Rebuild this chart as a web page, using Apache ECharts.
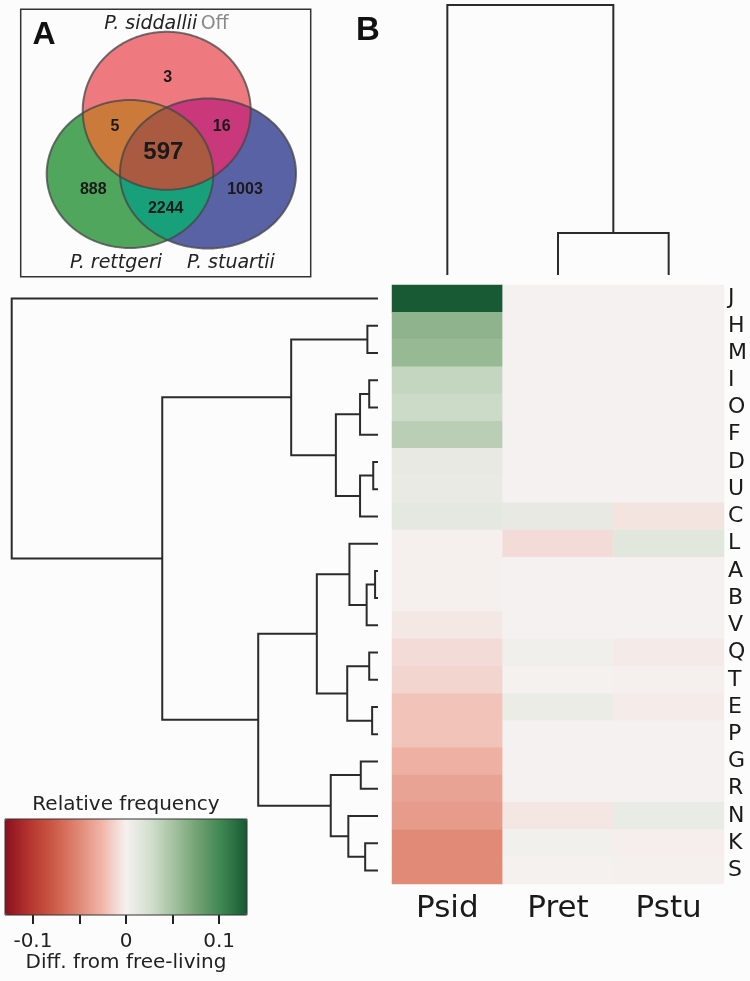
<!DOCTYPE html>
<html>
<head>
<meta charset="utf-8">
<script src="https://cdn.jsdelivr.net/npm/echarts@6/dist/echarts.min.js"></script>
<style>
html,body{margin:0;padding:0;background:#fcfcfc;}
#chart{width:750px;height:981px;}
</style>
</head>
<body>
<div id="chart"></div>
<script>
// ---------------- DATA ----------------
const rows = ['J','H','M','I','O','F','D','U','C','L','A','B','V','Q','T','E','P','G','R','N','K','S'];
const cols = ['Psid','Pret','Pstu'];
const psid = [0.13,0.062,0.058,0.034,0.030,0.040,0.011,0.010,0.013,-0.001,-0.001,-0.001,-0.004,-0.009,-0.012,-0.020,-0.020,-0.029,-0.036,-0.040,-0.050,-0.050];
const pret = [0,0,0,0,0,0,0,0,0.011,-0.009,0,0,0,0.003,0.0005,0.007,0,0,0,-0.0048,0.002,0.0005];
const pstu = [0,0,0,0,0,0,0,0,-0.0056,0.0145,0,0,0,-0.003,-0.001,-0.0026,0,0,0,0.009,-0.0015,-0.001];

// row dendrogram linkage: [childA, childB, height]; '#k' refers to k-th merge
const rowLinkage = [
  ['H','M',0.029], ['I','O',0.024], ['#1','F',0.049], ['D','U',0.013], ['#3','C',0.049],
  ['#2','#4',0.115], ['#0','#5',0.237], ['A','B',0.008], ['#7','V',0.031], ['L','#8',0.078],
  ['Q','T',0.024], ['E','P',0.016], ['#10','#11',0.084], ['#9','#12',0.167], ['G','R',0.047],
  ['K','S',0.035], ['N','#15',0.081], ['#14','#16',0.129], ['#13','#17',0.327], ['#6','#18',0.589],
  ['J','#19',1.0]
];
const colLinkage = [['Pret','Pstu',0.156], ['Psid','#0',1.0]];

// colour scale
const scaleMin = -0.13, scaleMax = 0.13;
const scaleColors = ['#8a0f1f','#b5342e','#cc5a47','#df8673','#f0b5a8','#f5f1f0','#d3dfcf','#a3c09f','#6fa070','#3b8450','#175a33'];
const colorbarTicks = [-0.1,-0.05,0,0.05,0.1];
const colorbarLabels = [-0.1,0,0.1];

// Venn
const vennSets = ['P. siddallii','P. rettgeri','P. stuartii'];
const vennRegions = ['S','SR','ST','SRT','R','RT','T'];
const vennCounts = [3,5,16,597,888,2244,1003];

// ---------------- LAYOUT ----------------
const L = {
  heat:{left:392, top:285, width:332, height:599},
  rowD:{left:11.7, top:285, width:366.3, height:599},
  colD:{left:392, top:5, width:332, height:270},
  cbar:{left:5, top:819, width:242, height:96},
  venn:{
    box:[20.7,9.3,290,267.4],
    ell:{S:{cx:166.7,cy:110.8,rx:84,ry:79}, R:{cx:130,cy:174,rx:83.3,ry:74}, T:{cx:208,cy:173.5,rx:88,ry:75}},
    lab:{S:[166.5,24], R:[116,263], T:[231,263]},
    num:{S:[167.7,77.3], SR:[115,126.7], ST:[221.7,126.7], SRT:[163.3,152.7], R:[93.3,190], RT:[165.7,209], T:[245,190]},
    col:{S:'#ee7a80', R:'#50a65c', T:'#5862a4', SR:'#cc7a3c', ST:'#c8387a', RT:'#17a07a', SRT:'#a95a40'}
  }
};

// ---------------- helpers ----------------
function dendroPaths(leaves, linkage, horizontal){
  const pos={}, hgt={};
  leaves.forEach((n,i)=>{pos[n]=i+0.5; hgt[n]=0;});
  const out=[];
  linkage.forEach((m,k)=>{
    const a=m[0], b=m[1], h=m[2];
    let pts=[[hgt[a],pos[a]],[h,pos[a]],[h,pos[b]],[hgt[b],pos[b]]];
    if(!horizontal) pts = pts.map(p=>[p[1],p[0]]);
    out.push({coords:pts});
    pos['#'+k]=(pos[a]+pos[b])/2; hgt['#'+k]=h;
  });
  return out;
}
function ellPts(e,n){
  const p=[];
  for(let i=0;i<n;i++){const t=2*Math.PI*i/n; p.push([e.cx+e.rx*Math.cos(t), e.cy+e.ry*Math.sin(t)]);}
  return p;
}
function clipPoly(subj, clip){
  let output=subj;
  for(let i=0;i<clip.length;i++){
    const A=clip[i], B=clip[(i+1)%clip.length];
    const input=output; output=[];
    if(!input.length) break;
    const inside=p=>((B[0]-A[0])*(p[1]-A[1])-(B[1]-A[1])*(p[0]-A[0]))>=0;
    const inter=(P,Q)=>{
      const a1=B[1]-A[1], b1=A[0]-B[0], c1=a1*A[0]+b1*A[1];
      const a2=Q[1]-P[1], b2=P[0]-Q[0], c2=a2*P[0]+b2*P[1];
      const d=a1*b2-a2*b1;
      return [(b2*c1-b1*c2)/d,(a1*c2-a2*c1)/d];
    };
    for(let j=0;j<input.length;j++){
      const P=input[j], Q=input[(j+1)%input.length];
      const pin=inside(P), qin=inside(Q);
      if(pin){ output.push(P); if(!qin) output.push(inter(P,Q)); }
      else if(qin){ output.push(inter(P,Q)); }
    }
  }
  return output;
}

// ---------------- build ----------------
const heatData=[];
[psid,pret,pstu].forEach((arr,c)=>arr.forEach((v,r)=>heatData.push([c,r,v])));

const V=L.venn;
const E={S:ellPts(V.ell.S,240), R:ellPts(V.ell.R,240), T:ellPts(V.ell.T,240)};
const graphics=[];
graphics.push({type:'rect', shape:{x:V.box[0],y:V.box[1],width:V.box[2],height:V.box[3]}, style:{fill:'#fcfcfc',stroke:'#333',lineWidth:1.5}, z:1});
const regionPolys=[
  ['S',E.S],['R',E.R],['T',E.T],
  ['SR',clipPoly(E.S,E.R)],['ST',clipPoly(E.S,E.T)],['RT',clipPoly(E.R,E.T)],
  ['SRT',clipPoly(clipPoly(E.S,E.R),E.T)]
];
regionPolys.forEach((rp,i)=>graphics.push({type:'polygon', shape:{points:rp[1]}, style:{fill:V.col[rp[0]], stroke:null}, z:2+i*0.01}));
['S','R','T'].forEach(k=>graphics.push({type:'polygon', shape:{points:E[k]}, style:{fill:null, stroke:'rgba(70,70,70,0.75)', lineWidth:2}, z:3}));
graphics.push({type:'text', x:V.lab.S[0], y:V.lab.S[1], z:4, style:{
  text:'{i|'+vennSets[0]+'} {o|Off}', align:'center', verticalAlign:'middle',
  rich:{i:{fontFamily:'DejaVu Sans',fontStyle:'italic',fontSize:19,fill:'#222'}, o:{fontFamily:'DejaVu Sans',fontSize:19,fill:'#8a8a8a'}}}});
graphics.push({type:'text', x:V.lab.R[0], y:V.lab.R[1], z:4, style:{text:vennSets[1], align:'center', verticalAlign:'middle', fontFamily:'DejaVu Sans', fontStyle:'italic', fontSize:19, fill:'#222'}});
graphics.push({type:'text', x:V.lab.T[0], y:V.lab.T[1], z:4, style:{text:vennSets[2], align:'center', verticalAlign:'middle', fontFamily:'DejaVu Sans', fontStyle:'italic', fontSize:19, fill:'#222'}});
vennRegions.forEach((r,i)=>{
  const p=V.num[r];
  graphics.push({type:'text', x:p[0], y:p[1], z:4, style:{text:String(vennCounts[i]), align:'center', verticalAlign:'middle',
    fontFamily:'Liberation Sans', fontWeight:'bold', fontSize:(r==='SRT'?24:16), fill:'#1a1a1a'}});
});
graphics.push({type:'text', x:44, y:35, z:4, style:{text:'A', align:'center', verticalAlign:'middle', fontFamily:'Liberation Sans', fontWeight:900, fontSize:32, fill:'#111'}});
graphics.push({type:'text', x:368, y:31, z:4, style:{text:'B', align:'center', verticalAlign:'middle', fontFamily:'Liberation Sans', fontWeight:900, fontSize:33, fill:'#111'}});
graphics.push({type:'text', x:126, y:805, z:4, style:{text:'Relative frequency', align:'center', verticalAlign:'middle', fontFamily:'DejaVu Sans', fontSize:20, fill:'#222'}});

const hidden={show:false};
const option={
  backgroundColor:'#fcfcfc',
  animation:false,
  grid:[
    Object.assign({},L.heat),
    Object.assign({},L.rowD),
    Object.assign({},L.colD),
    Object.assign({show:true, borderColor:'#333', borderWidth:1, backgroundColor:'transparent', z:10},L.cbar)
  ],
  xAxis:[
    {type:'category', gridIndex:0, data:cols, position:'bottom', axisLine:hidden, axisTick:hidden, splitLine:hidden,
     axisLabel:{interval:0, fontFamily:'DejaVu Sans', fontSize:31, color:'#1a1a1a', margin:9}},
    {type:'value', gridIndex:1, min:0, max:1, inverse:true, show:false},
    {type:'value', gridIndex:2, min:0, max:3, show:false},
    {type:'value', gridIndex:3, min:scaleMin, max:scaleMax, splitLine:hidden, axisLine:hidden,
     axisTick:{show:true, customValues:colorbarTicks, length:9, lineStyle:{color:'#222', width:2}},
     axisLabel:{customValues:colorbarLabels, fontFamily:'DejaVu Sans', fontSize:20, color:'#222', margin:17},
     name:'Diff. from free-living', nameLocation:'middle', nameGap:36,
     nameTextStyle:{fontFamily:'DejaVu Sans', fontSize:20, color:'#222'}}
  ],
  yAxis:[
    {type:'category', gridIndex:0, data:rows, inverse:true, position:'right', axisLine:hidden, axisTick:hidden, splitLine:hidden,
     axisLabel:{interval:0, fontFamily:'DejaVu Sans', fontSize:22, color:'#1a1a1a', margin:4}},
    {type:'value', gridIndex:1, min:0, max:rows.length, inverse:true, show:false},
    {type:'value', gridIndex:2, min:0, max:1, show:false},
    {type:'value', gridIndex:3, min:0, max:1, show:false}
  ],
  visualMap:{
    type:'continuous', min:scaleMin, max:scaleMax, seriesIndex:0, calculable:false, hoverLink:false,
    orient:'horizontal', left:L.cbar.left, top:L.cbar.top, itemWidth:L.cbar.height, itemHeight:L.cbar.width,
    padding:0, text:null, showLabel:false, inRange:{color:scaleColors}
  },
  series:[
    {type:'heatmap', xAxisIndex:0, yAxisIndex:0, data:heatData, silent:true, itemStyle:{borderWidth:0}, emphasis:{disabled:true}, progressive:0},
    {type:'lines', coordinateSystem:'cartesian2d', xAxisIndex:1, yAxisIndex:1, polyline:true, silent:true,
     lineStyle:{color:'#2b2b2b', width:2, opacity:1}, data:dendroPaths(rows,rowLinkage,true)},
    {type:'lines', coordinateSystem:'cartesian2d', xAxisIndex:2, yAxisIndex:2, polyline:true, silent:true,
     lineStyle:{color:'#2b2b2b', width:2, opacity:1}, data:dendroPaths(cols,colLinkage,false)}
  ],
  graphic:graphics
};
const chart=echarts.init(document.getElementById('chart'),null,{renderer:'canvas'});
chart.setOption(option);
</script>
</body>
</html>
